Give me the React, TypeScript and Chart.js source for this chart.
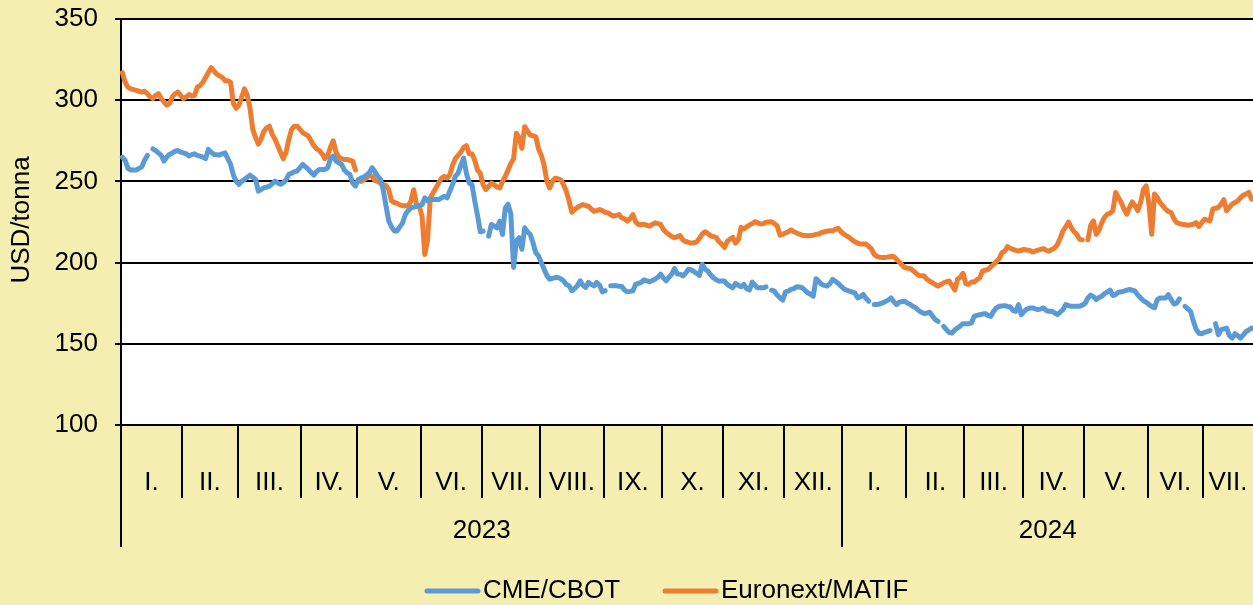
import React, { useEffect, useRef } from "react";
import { Chart, registerables } from "chart.js";

Chart.register(...registerables);

// ---- axis structure (weekdays per month) ----
const monthWeekdays2023 = [22, 20, 23, 20, 23, 22, 21, 23, 21, 22, 22, 21];
const monthWeekdays2024 = [23, 21, 21, 22, 23, 20, 18];
const monthLabels2023 = ["I.", "II.", "III.", "IV.", "V.", "VI.", "VII.", "VIII.", "IX.", "X.", "XI.", "XII."];
const monthLabels2024 = ["I.", "II.", "III.", "IV.", "V.", "VI.", "VII."];
const yearLabels = ["2023", "2024"];
const yTicks = [100, 150, 200, 250, 300, 350];
const seriesNames = ["CME/CBOT", "Euronext/MATIF"];

// ---- daily (trading-day) prices, USD/tonna ----
const cmeCbot: (number | null)[] = [
  265, 263, 258, 257, 257, 257, 258, 259, 263, 266,
  null, 270, 269, 267.5, 266, 262.5, 265, 266.6, 267.5, 268.6,
  269, 268, 267.6, 267, 265.6, 266.5, 267, 266, 265.6, 265,
  264, 269.7, 268, 266.6, 266.4, 266.2, 267, 267.6, 264, 260.5,
  254, 250, 248.2, 250, 251.2, 252.5, 253.9, 252.5, 251.2, 244,
  245, 246.1, 246.5, 247.1, 248.5, 250.2, 249, 248.2, 249.2, 251,
  254.3, 255, 256, 256.4, 258.5, 260.5, 259, 257.4, 255.5, 253.9,
  256, 257.4, 257.4, 257.4, 258.4, 264, 265.6, 262.5, 261.5, 260.5,
  257, 255.3, 254.3, 249, 247.1, 251.2, 252, 252.7, 254, 255.3,
  258.4, 256, 253.3, 251.2, 245, 235, 225.6, 222, 219.5, 219.5,
  222, 224.5, 229.6, 232, 233.7, 234.2, 234.7, 235.2, 235.7, 239.8,
  238, 239, 238.8, 238.8, 238.8, 239.8, 240.8, 239.8, 243.9, 248,
  253, 255.1, 260, 264.3, 255, 249, 248, 238, 229, 219,
  219.4, null, 216.3, 223.5, 222.5, 221.4, 225.5, 217.3, 233.7, 236,
  230, 197, 213.3, 215.3, 208.2, 221.4, 219, 217.3, 212.2, 206,
  204.1, 200, 195.9, 192, 189.8, 190.3, 190.8, 190.8, 190, 188.8,
  186.5, 185.7, 182.7, 184, 185.7, 188.8, 186, 184.7, 187.8, 186.5,
  185.7, 187.8, 186, 182, 182.7, null, 185.7, 185.7, 185.7, 185.5,
  185.3, 183, 182, 182.3, 182.7, 186.7, 187.2, 187.8, 189.4, 188.8,
  188.2, 189, 189.8, 191, 192.9, 190.5, 188.8, 191, 192.9, 196.3,
  193, 192.9, 191.8, 193.5, 195.9, 195.5, 194.5, 193.4, 192.1, 199,
  196, 194.8, 192.5, 190.7, 189.5, 188.6, 188.6, 188.6, 186.6, 185.5,
  184.5, 187.2, 186, 185.1, 186.6, 184, 183.1, 188, 186, 184.5,
  184.5, 184.5, 185.1, null, 183, 182.4, 180, 178.3, 176.9, 182,
  182.4, 183.5, 184, 185.1, 185, 184.5, 183, 181.4, 180.5, 179.3,
  190.1, 188.5, 186.6, 186, 185.5, 187, 189.7, 188.5, 187.2, 185.5,
  183.9, 183, 182.4, 181.9, 181.4, 178.3, 179, 180.4, 178, 176.2,
  null, 174.2, 174.2, 174.5, 175.2, 176, 176.9, 178.3, 176, 174.2,
  175.6, 176, 176.2, 175, 174.2, 173, 172.1, 170.5, 169.4, 168.6,
  169, 169.4, 167, 164.9, 163.8, null, 160.7, 158.7, 157, 156.6,
  158.5, 159.7, 161, 162.4, 162.4, 162.4, 162.8, 166.9, 167.5, 167.9,
  168.3, 168.6, 167.5, 166.9, 170, 172.1, 173.1, 173.3, 173.5, 173,
  172.7, 170.5, 170, 174.1, 167.9, 170, 171.4, 172, 172.1, 171.5,
  171, 171.5, 172.1, 170.5, 170, 170, 169, 167.9, 169.5, 171,
  174.1, 173.5, 173.1, 173.1, 173.1, 173.1, 173.8, 175, 178.2, 180,
  179, 177.2, 178.5, 179.3, 180.9, 182, 183, 179.7, 180.3, 181.8,
  182, 182.4, 183, 183.4, 183, 182.4, 180, 178.2, 176.5, 175.6,
  174.1, 173, 172.1, 177.2, 178.2, 178.2, 178.2, 180.3, 177.2, 174.5,
  175, 177.6, null, 173.1, 171.5, 170, 164, 159, 156.5, 156.2,
  157, 157.5, 158.2, null, 162.4, 155.6, 158.7, 159.2, 159.7, 155,
  153.5, 156.2, 155, 153.5, 155.5, 157.6, 158.5, 159.7,
];

const euronextMatif: (number | null)[] = [
  317, 311, 308, 307, 306.5, 306, 305.5, 305, 305.5, 304,
  302, 301, 303, 304, 301, 299, 297, 298, 302, 304,
  305, 303, 301, 302, 303.5, 302.5, 303, 308, 309, 311,
  314, 317, 320, 318, 316, 315, 314, 312, 312, 311,
  298, 295, 297, 302, 307, 303, 295, 282, 277, 273,
  276, 281, 283, 284, 279, 276, 272, 268, 264, 268,
  276, 282, 284, 284, 282, 280, 279, 278, 275, 272,
  270, 269, 267, 264, 266, 271, 275, 268, 265, 264,
  263.5, 263.5, 263, 262.5, 257, null, 250, 251, 252, 254,
  253, 250.5, 250, 249, 248, 247.5, 245, 238, 237, 236.5,
  235.5, 235, 235, 234.7, 238, 244.9, 236, 234.7, 228.6, 205,
  214, 240, 243, 246, 249, 252, 253, 252, 254, 260,
  264, 266, 268, 271, 272, 267, 267, 263, 257, 255,
  248, 245, 247, 249, 248, 246.5, 246, 250, 253, 257,
  261, 264, 279.6, 277, 270.4, 283.7, 281, 278.6, 278, 277.6,
  270, 266, 260, 250, 246, 250, 252, 251.5, 251, 248,
  244, 238, 231, 232.7, 234, 235, 235.7, 235, 234.7, 233,
  231.6, 232, 232.7, 232, 231, 230.6, 229.5, 228.6, 229, 229.6,
  227.6, 227, 225.5, 227, 229.6, 225, 223.5, 223.5, 223.5, 223,
  222.4, 223.5, 224.5, 224, 223.5, 220.4, 218.5, 217.3, 216, 215.3,
  216, 216.7, 214, 213, 212.5, 212, 212.2, 212.8, 215, 217.6,
  219, 218, 216.5, 216, 215.5, 213, 211.4, 209.3, 213, 214.5,
  215.5, 212, 214, 221.7, 220.7, 222, 223.1, 224, 225.2, 224.5,
  223.8, 224, 224.8, 225, 225.2, 224, 222.7, 216.9, 217.5, 218.2,
  219, 220.2, 219, 218.2, 217.5, 216.9, 216.7, 216.5, 216.7, 216.9,
  217.4, 217.6, 218.5, 219, 219.3, 219.6, 219.6, 220.5, 221.1, 219,
  217.6, 216.5, 215.5, 214, 212.8, 212, 211.4, 211.4, 211.4, 210,
  208.3, 205, 203.7, 203.3, 203.1, 203.1, 203.5, 203.7, 203.7, 202,
  200.4, 198.5, 196.9, 196.5, 196.3, 195, 193.5, 192.1, 191.9, 191.7,
  189.7, 188.5, 187.6, 186.5, 185.5, 186.5, 187.6, 188.2, 188.6, 186,
  183.1, 189.7, 191, 193.4, 187, 186.6, 188, 188, 189.5, 190.6,
  194.7, 195.3, 195.8, 197.5, 198.9, 200.5, 202.4, 206.1, 207, 209.8,
  208.8, 208.1, 207.5, 207.1, 207.6, 208.1, 207.7, 207.5, 206.5, 207.1,
  207.7, 208.2, 208.6, 207.5, 207.1, 208.1, 209, 211.2, 215, 219.5,
  222, 225, 221.5, 219, 217.4, 214.3, 214, null, 214, 223,
  225.7, 217.4, 220, 224.6, 228, 229.8, 230.5, 232, 243.2, 240,
  237, 233, 229.8, 234, 237.4, 235, 231.9, 237, 245, 247.3,
  236, 217.4, 242.2, 240, 237, 235, 232.9, 231.5, 230.8, 227,
  224.6, 224, 223.6, 223.3, 223, 223.3, 223.6, 224.6, 222.2, 224.5,
  226.7, 226.2, 225.7, 232.9, 233.5, 233.9, 236, 238.7, 231.9, 234,
  236, 237, 238, 240, 241.5, 242.3, 243.2, 239.1,
];

const seriesColors = ["#5B9BD5", "#ED7D31"];

// categories: trading days (weekdays) Jan 2023 .. Jul 2024
function buildCategories(): string[] {
  const total = [...monthWeekdays2023, ...monthWeekdays2024].reduce((s, v) => s + v, 0);
  const out: string[] = [];
  const d = new Date(Date.UTC(2023, 0, 2));
  while (out.length < total) {
    const wd = d.getUTCDay();
    if (wd !== 0 && wd !== 6) out.push(d.toISOString().slice(0, 10));
    d.setUTCDate(d.getUTCDate() + 1);
  }
  return out;
}
const categories = buildCategories();

const FONT = "'Liberation Sans', Arial, Helvetica, sans-serif";
const TEXT_SIZE = 26;
const BG = "#F4EEB1";

const decorPlugin = {
  id: "decor",
  beforeDraw(chart: any) {
    const { ctx, chartArea: a } = chart;
    ctx.save();
    ctx.fillStyle = "#ffffff";
    ctx.fillRect(a.left, a.top, a.right - a.left, a.bottom - a.top);
    ctx.restore();
  },
  afterDraw(chart: any) {
    const { ctx, chartArea: a } = chart;
    const n = categories.length;
    const slot = (a.right - a.left) / n;
    const bx = (k: number) => a.left + k * slot;
    ctx.save();
    ctx.strokeStyle = "#000";
    ctx.lineWidth = 2;
    ctx.fillStyle = "#000";
    ctx.font = `${TEXT_SIZE}px ${FONT}`;
    ctx.textAlign = "center";
    ctx.textBaseline = "middle";

    const years = [
      { label: yearLabels[0], counts: monthWeekdays2023, months: monthLabels2023 },
      { label: yearLabels[1], counts: monthWeekdays2024, months: monthLabels2024 },
    ];
    let k = 0;
    years.forEach((y) => {
      const yStart = k;
      y.counts.forEach((c, i) => {
        const x0 = bx(k);
        const x1 = bx(k + c);
        const len = i === 0 ? 122 : 73;
        ctx.beginPath();
        ctx.moveTo(Math.round(x0), a.bottom);
        ctx.lineTo(Math.round(x0), a.bottom + len);
        ctx.stroke();
        ctx.fillText(y.months[i], (x0 + x1) / 2, a.bottom + 58);
        k += c;
      });
      ctx.fillText(y.label, (bx(yStart) + bx(k)) / 2, a.bottom + 106);
    });

    // y-axis title
    ctx.save();
    ctx.translate(22, 220);
    ctx.rotate(-Math.PI / 2);
    ctx.fillText("USD/tonna", 0, 0);
    ctx.restore();

    // legend
    const ly = 591;
    const items = [
      { x: 425, name: seriesNames[0], color: seriesColors[0] },
      { x: 663, name: seriesNames[1], color: seriesColors[1] },
    ];
    ctx.lineCap = "round";
    ctx.lineWidth = 5;
    ctx.textAlign = "left";
    items.forEach((it) => {
      ctx.strokeStyle = it.color;
      ctx.beginPath();
      ctx.moveTo(it.x + 2, ly);
      ctx.lineTo(it.x + 53, ly);
      ctx.stroke();
      ctx.fillStyle = "#000";
      ctx.fillText(it.name, it.x + 58, ly);
    });
    ctx.restore();
  },
};

export default function App() {
  const ref = useRef<HTMLCanvasElement | null>(null);

  useEffect(() => {
    if (!ref.current) return;
    const chart = new Chart(ref.current, {
      type: "line",
      data: {
        labels: categories,
        datasets: [
          {
            label: seriesNames[0],
            data: cmeCbot,
            borderColor: seriesColors[0],
            backgroundColor: seriesColors[0],
            borderWidth: 5,
            pointRadius: 0,
            tension: 0,
            spanGaps: false,
            borderCapStyle: "round",
            borderJoinStyle: "round",
          },
          {
            label: seriesNames[1],
            data: euronextMatif,
            borderColor: seriesColors[1],
            backgroundColor: seriesColors[1],
            borderWidth: 5,
            pointRadius: 0,
            tension: 0,
            spanGaps: false,
            borderCapStyle: "round",
            borderJoinStyle: "round",
          },
        ],
      },
      options: {
        animation: false,
        responsive: false,
        devicePixelRatio: 1,
        layout: { padding: { top: 19, right: 0, bottom: 180, left: 0 } },
        plugins: {
          legend: { display: false },
          tooltip: { enabled: false },
        },
        scales: {
          x: {
            type: "category",
            display: false,
            offset: true,
          },
          y: {
            min: yTicks[0],
            max: yTicks[yTicks.length - 1],
            afterFit: (scale: any) => {
              scale.width = 121;
              scale.paddingTop = 0;
              scale.paddingBottom = 0;
            },
            afterBuildTicks: (scale: any) => {
              scale.ticks = yTicks.map((v) => ({ value: v }));
            },
            ticks: {
              color: "#000",
              padding: 17,
              font: { family: FONT, size: TEXT_SIZE },
            },
            grid: {
              color: "#000",
              lineWidth: 2,
              tickLength: 6,
              drawTicks: true,
            },
            border: { display: true, color: "#000", width: 2 },
          },
        },
      },
      plugins: [decorPlugin],
    });
    return () => chart.destroy();
  }, []);

  return (
    <div
      style={{
        position: "fixed",
        left: 0,
        top: 0,
        width: 1253,
        height: 605,
        background: BG,
        overflow: "hidden",
      }}
    >
      <canvas ref={ref} width={1253} height={605} style={{ display: "block" }} />
    </div>
  );
}
